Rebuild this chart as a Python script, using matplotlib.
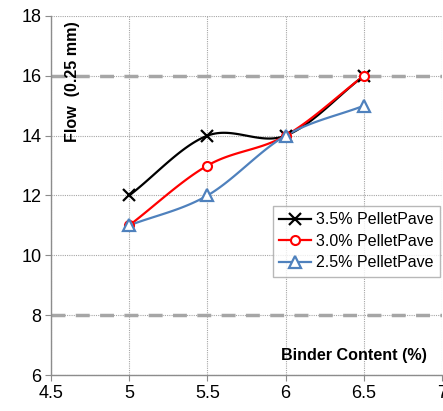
import numpy as np
import matplotlib
matplotlib.use("Agg")
import matplotlib.pyplot as plt

plt.rcParams['font.family'] = ['Liberation Sans', 'DejaVu Sans']

binder = [5.0, 5.5, 6.0, 6.5]
flow_35 = [12, 14, 14, 16]
flow_30 = [11, 13, 14, 16]
flow_25 = [11, 12, 14, 15]
labels = ["3.5% PelletPave", "3.0% PelletPave", "2.5% PelletPave"]
xticks = [4.5, 5, 5.5, 6, 6.5, 7]
yticks = [6, 8, 10, 12, 14, 16, 18]


def smooth(x, y, n=40):
    x = np.asarray(x, float)
    y = np.asarray(y, float)
    px = np.concatenate([[2 * x[0] - x[1]], x, [2 * x[-1] - x[-2]]])
    py = np.concatenate([[2 * y[0] - y[1]], y, [2 * y[-1] - y[-2]]])
    xs, ys = [], []
    t = np.linspace(0, 1, n)
    for i in range(1, len(px) - 2):
        p0, p1, p2, p3 = (np.array([px[j], py[j]]) for j in range(i - 1, i + 3))
        c1 = p1 + (p2 - p0) / 6
        c2 = p2 - (p3 - p1) / 6
        pts = ((1 - t) ** 3)[:, None] * p1 + (3 * (1 - t) ** 2 * t)[:, None] * c1 \
            + (3 * (1 - t) * t ** 2)[:, None] * c2 + (t ** 3)[:, None] * p2
        xs.extend(pts[:, 0])
        ys.extend(pts[:, 1])
    return xs, ys


fig = plt.figure(figsize=(4.43, 4.11), dpi=100)
ax = fig.add_axes([51 / 443, 1 - 375 / 411, 391 / 443, 359 / 411])

ax.set_xlim(4.5, 7)
ax.set_ylim(6, 18)
ax.set_xticks(xticks)
ax.set_xticklabels(["4.5", "5", "5.5", "6", "6.5", "7"])
ax.set_yticks(yticks)
ax.grid(True, color='#a6a6a6', linestyle=(0, (1, 1)), linewidth=0.8)
for yv in (8, 16):
    ax.axhline(yv, color='#a6a6a6', linestyle=(0, (4, 3)), linewidth=2.5, zorder=1)

for s in ('top', 'right'):
    ax.spines[s].set_visible(False)
for s in ('left', 'bottom'):
    ax.spines[s].set_color('#8c8c8c')
    ax.spines[s].set_linewidth(1)
ax.tick_params(axis='both', direction='out', length=4, color='#8c8c8c',
               labelsize=13, pad=3)

series = [
    (flow_35, 'black', dict(marker='x', markersize=9, markeredgewidth=1.6)),
    (flow_30, '#ff0000', dict(marker='o', markersize=6.5, markeredgewidth=1.5, markerfacecolor='white')),
    (flow_25, '#4f81bd', dict(marker='^', markersize=9, markeredgewidth=1.6, markerfacecolor='white')),
]
handles = []
for (vals, col, mk), lab in zip(series, labels):
    sx, sy = smooth(binder, vals)
    ax.plot(sx, sy, color=col, linewidth=1.6, zorder=3)
    ax.plot(binder, vals, linestyle='none', color=col, markeredgecolor=col, zorder=4, **mk)
    h, = ax.plot([], [], color=col, linewidth=1.6, markeredgecolor=col, **mk)
    handles.append(h)

leg = ax.legend(handles, labels, loc='upper left', bbox_to_anchor=(222 / 391, (375 - 206) / 359),
                fontsize=11.5, frameon=True, fancybox=False, edgecolor='#a6a6a6',
                handlelength=2.0, handletextpad=0.3, borderpad=0.4, labelspacing=0.4,
                borderaxespad=0)
leg.get_frame().set_linewidth(1)

ax.text(0.055, 0.985, "Flow  (0.25 mm)", transform=ax.transAxes, rotation=90,
        ha='center', va='top', fontsize=11.6, fontweight='bold')
ax.text(0.962, 0.055, "Binder Content (%)", transform=ax.transAxes,
        ha='right', va='center', fontsize=11.6, fontweight='bold')

fig.savefig("out.png", dpi=100)
